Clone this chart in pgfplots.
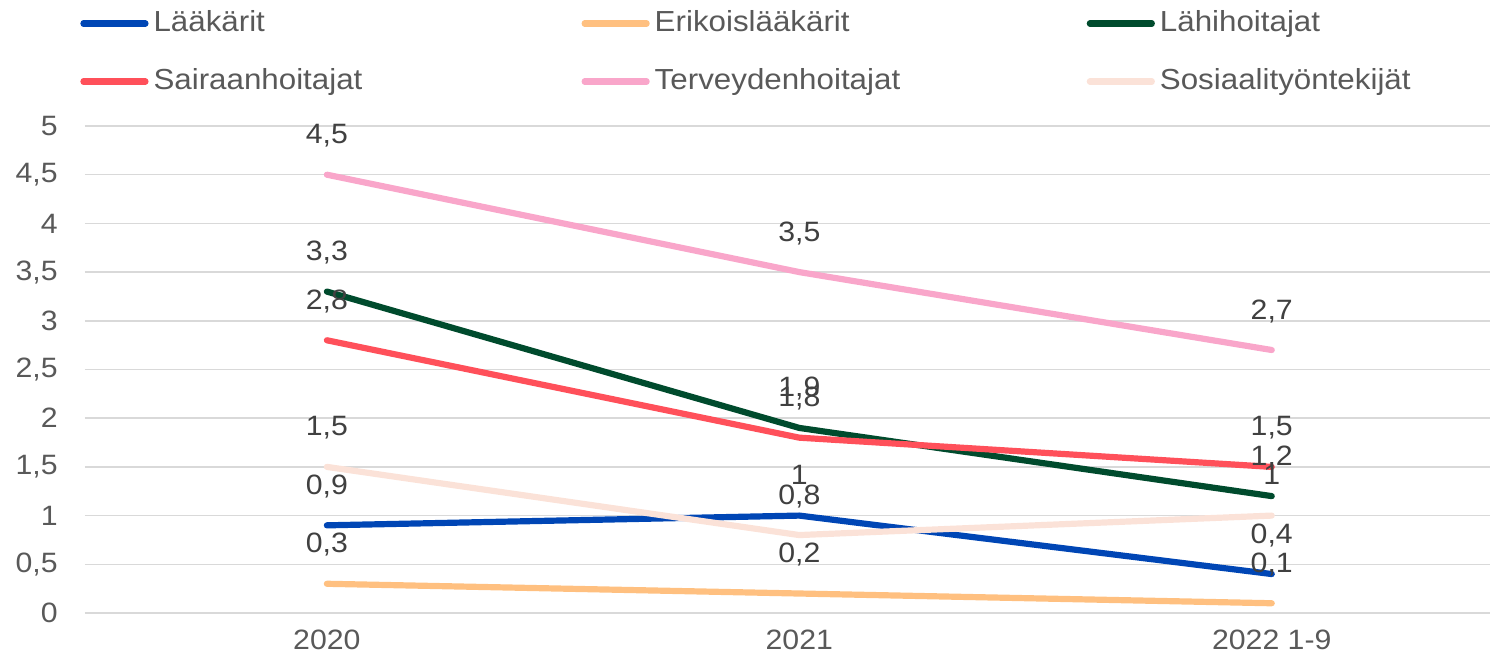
\documentclass[border=0pt]{standalone}
\usepackage{fontspec}
\setmainfont{Liberation Sans}[FakeStretch=1.08]
\usepackage{pgfplots}
\pgfplotsset{compat=1.18}
\definecolor{cBlue}{HTML}{0046B5}
\definecolor{cOrange}{HTML}{FFC080}
\definecolor{cGreen}{HTML}{004B2D}
\definecolor{cRed}{HTML}{FF505A}
\definecolor{cPink}{HTML}{F9A6CA}
\definecolor{cPeach}{HTML}{FBE2D8}
\definecolor{gridgray}{HTML}{D9D9D9}
\definecolor{tickgray}{HTML}{595959}
\definecolor{labelgray}{HTML}{404040}
\newcommand{\lbl}{\fontsize{14}{16.5}\selectfont}
\newcommand{\lgd}{\fontsize{14.5}{17}\selectfont}
\begin{document}
\begin{tikzpicture}
\begin{axis}[
  at={(0pt,0pt)}, anchor=south west,
  width=702.5pt, height=243.5pt, scale only axis,
  xmin=-0.512, xmax=2.462, ymin=0, ymax=5,
  xtick={0,1,2}, xticklabels={2020,2021,2022 1-9},
  ytick={0,0.5,1,1.5,2,2.5,3,3.5,4,4.5,5},
  ymajorgrids, grid style={color=gridgray, line width=0.75pt},
  axis line style={draw=none},
  major tick length=0pt,
  /pgf/number format/use comma,
  /pgf/number format/assume math mode=true,
  yticklabel style={font=\lbl, text=tickgray, anchor=east, inner sep=0pt, xshift=-13.5pt},
  xticklabel style={font=\lbl, text=tickgray, anchor=north, inner sep=0pt, yshift=-8.5pt},
  clip=false,
  nodes near coords,
  every node near coord/.append style={font=\lbl, text=labelgray, anchor=base, inner sep=0pt, yshift=15.5pt},
  legend columns=3,
  legend cell align=left,
  legend style={at={(-0.0036,1.24)}, anchor=north west, draw=none, fill=none, inner sep=0pt,
    nodes={inner sep=0pt, text=tickgray, font=\lgd, text height=11pt, text depth=3pt},
    row sep=15pt, /tikz/every odd column/.append style={column sep=2.5pt}},
  legend image code/.code={\draw[#1, line cap=round] (1.5pt,0pt) -- (32.5pt,0pt);},
  every axis plot/.append style={line width=3.1pt, line cap=round, line join=round},
]
\addplot[cBlue] coordinates {(0,0.9) (1,1.0) (2,0.4)};
\addlegendentry{\makebox[214pt][l]{Lääkärit}}
\addplot[cOrange] coordinates {(0,0.3) (1,0.2) (2,0.1)};
\addlegendentry{\makebox[216pt][l]{Erikoislääkärit}}
\addplot[cGreen] coordinates {(0,3.3) (1,1.9) (2,1.2)};
\addlegendentry{\makebox[216pt][l]{Lähihoitajat}}
\addplot[cRed] coordinates {(0,2.8) (1,1.8) (2,1.5)};
\addlegendentry{\makebox[214pt][l]{Sairaanhoitajat}}
\addplot[cPink] coordinates {(0,4.5) (1,3.5) (2,2.7)};
\addlegendentry{\makebox[216pt][l]{Terveydenhoitajat}}
\addplot[cPeach] coordinates {(0,1.5) (1,0.8) (2,1.0)};
\addlegendentry{\makebox[216pt][l]{Sosiaalityöntekijät}}
\end{axis}
\pgfresetboundingbox
\path[use as bounding box] (-42.5pt,-24.5pt) rectangle (704pt,306.5pt);
\end{tikzpicture}
\end{document}
